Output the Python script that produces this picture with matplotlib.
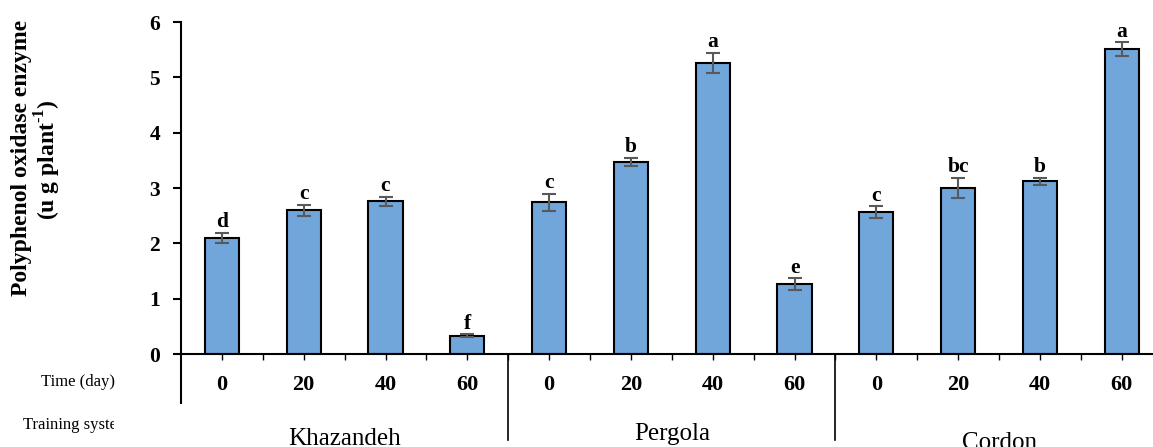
import numpy as np
import matplotlib.pyplot as plt
from matplotlib.transforms import blended_transform_factory

plt.rcParams['font.family'] = ['Liberation Serif', 'DejaVu Serif']
plt.rcParams['mathtext.fontset'] = 'custom'
plt.rcParams['mathtext.rm'] = 'Liberation Serif:bold'
plt.rcParams['mathtext.bf'] = 'Liberation Serif:bold'

days = ['0', '20', '40', '60']
systems = ['Khazandeh', 'Pergola', 'Cordon']
khazandeh = [2.10, 2.60, 2.76, 0.33]
pergola = [2.74, 3.47, 5.26, 1.26]
cordon = [2.56, 3.00, 3.12, 5.51]
khazandeh_err = [0.09, 0.10, 0.08, 0.03]
pergola_err = [0.16, 0.08, 0.18, 0.11]
cordon_err = [0.11, 0.18, 0.06, 0.12]
letters = ['d', 'c', 'c', 'f', 'c', 'b', 'a', 'e', 'c', 'bc', 'b', 'a']

vals = khazandeh + pergola + cordon
errs = khazandeh_err + pergola_err + cordon_err
x = np.arange(len(vals))

fig = plt.figure(figsize=(11.53, 4.47), dpi=100)
ax = fig.add_axes([181/1153, 93/447, 981.6/1153, 332/447])

ax.bar(x, vals, width=0.42, color='#70A6DA', edgecolor='black', linewidth=1.5, zorder=2)
ax.errorbar(x, vals, yerr=errs, fmt='none', ecolor='#595959', elinewidth=1.5,
            capsize=5, capthick=1.5, zorder=3)
for xi, v, e, l in zip(x, vals, errs, letters):
    ax.annotate(l, (xi, v + e), xytext=(0, 4), textcoords='offset points',
                ha='center', va='baseline', fontsize=15.5, fontweight='bold')

ax.set_xlim(-0.5, 11.5)
ax.set_ylim(0, 6)
ax.spines['top'].set_visible(False)
ax.spines['right'].set_visible(False)
ax.spines['left'].set_linewidth(1.5)
ax.spines['bottom'].set_linewidth(1.5)
ax.set_yticks(range(7))
ax.tick_params(axis='y', direction='out', length=6, width=1.5, labelsize=15.5, pad=9)
ax.set_xticks(x)
ax.set_xticks(np.arange(0.5, 11.5, 1), minor=True)
ax.set_xticklabels(days * 3, fontsize=16, fontweight='bold')
ax.tick_params(axis='x', which='both', direction='out', length=4, width=1, pad=11)
for lab in ax.get_yticklabels():
    lab.set_fontweight('bold')

tr = blended_transform_factory(ax.transData, ax.transAxes)
ax.plot([-0.5, -0.5], [0, -0.148], color='black', lw=1.5, transform=tr, clip_on=False)
for sx in [3.5, 7.5]:
    ax.plot([sx, sx], [0, -0.26], color='black', lw=1.2, transform=tr, clip_on=False)

# group names, baselines staggered as in the original
for cx, yy, name in zip([1.5, 5.5, 9.5], [445, 440, 449], systems):
    ax.text(cx, 1 - yy/447, name, fontsize=18, ha='center', va='baseline',
            transform=blended_transform_factory(ax.transData, fig.transFigure))

fig.text(78/1153, 1 - 382/447, 'Time (day)', fontsize=12, ha='center', va='center')
cax = fig.add_axes([0, 0, 114/1153, 1])
cax.axis('off')
cax.set_xlim(0, 1)
cax.set_ylim(0, 1)
cax.text(23/114, 1 - 425/447, 'Training system', fontsize=12, ha='left', va='center', clip_on=True)

fig.text(22/1153, 1 - 158/447, 'Polyphenol oxidase enzyme', rotation=90, fontsize=17,
         fontweight='bold', ha='center', va='center')
fig.text(48/1153, 1 - 160/447, r'(u g plant$^{\text{-1}}$)', rotation=90, fontsize=17,
         fontweight='bold', ha='center', va='center')

fig.savefig('out.png', dpi=100)
